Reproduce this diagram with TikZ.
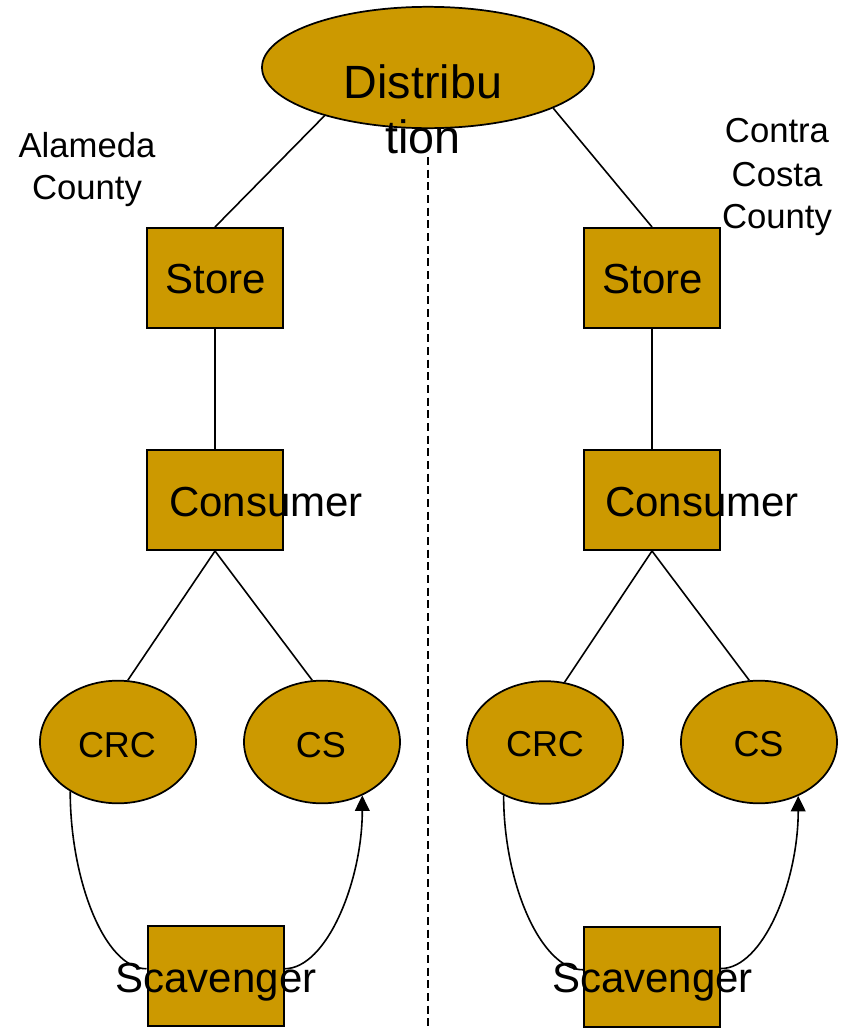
\documentclass[tikz,border=0pt]{standalone}
\usepackage{fontspec}
\setmainfont{Liberation Sans}
\usetikzlibrary{arrows.meta,shapes.geometric}
\definecolor{gold}{HTML}{CC9900}
\tikzset{
  x=0.75pt, y=-0.75pt,
  boxshape/.style={draw=black, line width=1.5pt, fill=gold, rectangle, minimum width=102pt, minimum height=75pt, inner sep=0pt},
  ovalshape/.style={draw=black, line width=1.3pt, fill=gold, ellipse, minimum width=117pt, minimum height=92pt, inner sep=0pt},
  bigtext/.style={font=\fontsize{31.5}{38}\selectfont, inner sep=0pt, anchor=base},
  midtext/.style={font=\fontsize{27}{32}\selectfont, inner sep=0pt, anchor=base},
  smalltext/.style={font=\fontsize{26}{31.5}\selectfont, inner sep=0pt, anchor=base},
  conn/.style={draw=black, line width=1.2pt},
  arr/.style={conn, -{Triangle[length=11.5pt,width=11pt]}},
}
\begin{document}
\begin{tikzpicture}
\useasboundingbox (0,0) rectangle (840,1028);
% dashed divider
\coordinate (dtop) at (428,157);
\coordinate (dbot) at (428,1028);
\draw[line width=1pt, dash pattern=on 6pt off 3.5pt] (dtop) -- (dbot);

% distribution
\node[draw=black, line width=1.3pt, fill=gold, ellipse, minimum width=249pt, minimum height=91pt, inner sep=0pt] (dist) at (428,67.5) {};
\node[font=\fontsize{35}{41}\selectfont, inner sep=0pt, anchor=base] (distA) at (423,98) {Distribu};
\node[font=\fontsize{35}{41}\selectfont, inner sep=0pt, anchor=base] (distB) at (423,153) {tion};

% county labels
\node[smalltext] (ala1) at (87,157) {Alameda};
\node[smalltext] (ala2) at (87,199) {County};
\node[smalltext] (cc1) at (777,142) {Contra};
\node[smalltext] (cc2) at (777,186) {Costa};
\node[smalltext] (cc3) at (777,228) {County};

% left side
\node[boxshape] (lstore) at (215,278) {};
\node[boxshape] (lcons) at (215,500) {};
\node[ovalshape] (lcrc) at (118,742) {};
\node[ovalshape] (lcs) at (322,742) {};
\node[boxshape] (lscav) at (215.5,976) {};

% right side
\node[boxshape] (rstore) at (652,278) {};
\node[boxshape] (rcons) at (652,500) {};
\node[ovalshape] (rcrc) at (545,742.5) {};
\node[ovalshape] (rcs) at (759,742) {};
\node[boxshape] (rscav) at (652,977) {};

% connectors
\draw[conn] (dist.205.9) -- (lstore.north);
\draw[conn] (dist.342.7) -- (rstore.north);
\draw[conn] (lstore.south) -- (lcons.north);
\draw[conn] (rstore.south) -- (rcons.north);
\draw[conn] (lcons.south) -- (lcrc.81.5);
\draw[conn] (lcons.south) -- (lcs.99.5);
\draw[conn] (rcons.south) -- (rcrc.72.3);
\draw[conn] (rcons.south) -- (rcs.99.5);

% curves
\draw[conn] (lcrc.226.7) .. controls +(0,88) and +(-42,0) .. (lscav.174);
\draw[arr] (lscav.6.7) .. controls +(42,0) and +(0,86) .. (lcs.307);
\draw[conn] (rcrc.232) .. controls +(0,88) and +(-42,0) .. (rscav.174);
\draw[arr] (rscav.7) .. controls +(42,0) and +(0,86) .. (rcs.306);

% texts
\node[bigtext] (lstoret) at (216,293) {Store};
\node[bigtext] (rstoret) at (653,293) {Store};
\node[bigtext, anchor=base west] (lconst) at (169,516) {Consumer};
\node[bigtext, anchor=base west] (rconst) at (605,516) {Consumer};
\node[midtext] (lcrct) at (117,757) {CRC};
\node[midtext] (lcst) at (321,757) {CS};
\node[midtext] (rcrct) at (545,756) {CRC};
\node[midtext] (rcst) at (758.5,756) {CS};
\node[bigtext] (lscavt) at (216,992) {Scavenger};
\node[bigtext] (rscavt) at (652.5,992) {Scavenger};
\end{tikzpicture}
\end{document}
